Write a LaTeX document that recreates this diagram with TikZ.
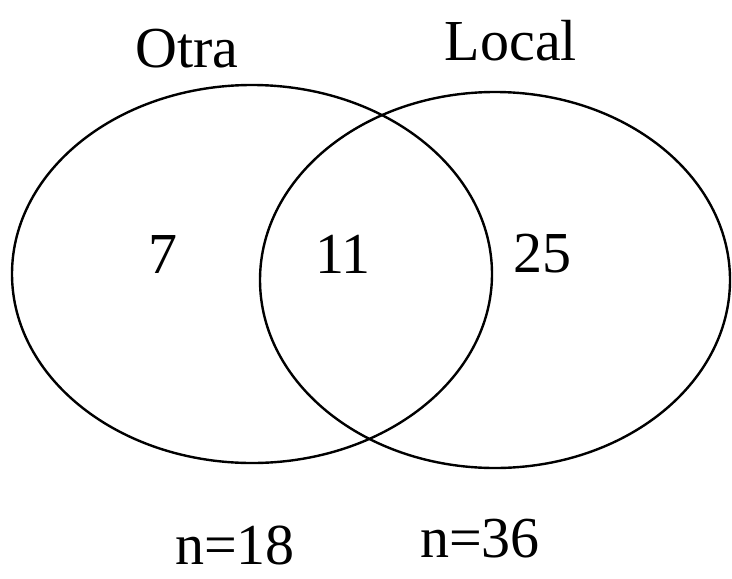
\documentclass[tikz,border=0pt]{standalone}
\usepackage{fontspec}
\setmainfont{Liberation Serif}
\usetikzlibrary{shapes.geometric}

\begin{document}
\begin{tikzpicture}[
  x=0.5pt, y=-0.5pt,
  set/.style={ellipse, draw, line width=1.2pt, inner sep=0pt},
  label/.style={anchor=base, inner sep=0pt, font=\fontsize{29pt}{34pt}\selectfont},
]
\useasboundingbox (0,0) rectangle (732,578);

% --- Sets ---
\node[set, minimum width=240pt, minimum height=189pt] (otra) at (252,274) {};
\node[set, minimum width=235pt, minimum height=188pt] (local) at (495,280) {};

% Set names
\node[label] (otraname) at (187,67) {Otra};
\node[label] (localname) at (511,60) {Local};

% Counts
\node[label] (onlyotra) at (163,273) {7};
\node[label] (both) at (343,273) {11};
\node[label] (onlylocal) at (542,272) {25};

% Totals
\node[label] (notra) at (235,564) {n=18};
\node[label] (nlocal) at (480,557) {n=36};

\end{tikzpicture}
\end{document}
